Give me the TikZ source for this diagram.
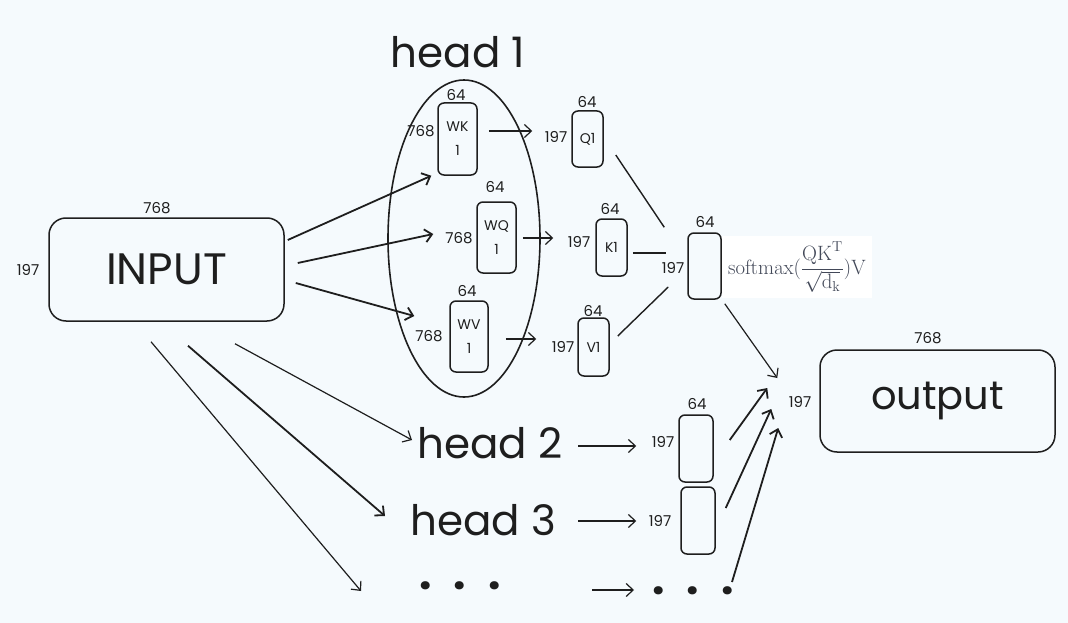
\documentclass[tikz,border=0pt]{standalone}
\usepackage[no-math]{fontspec}
\setmainfont{Poppins}
\usetikzlibrary{shapes.geometric,arrows.meta,calc}
\definecolor{bg}{RGB}{245,250,253}
\definecolor{ink}{RGB}{30,30,30}
\definecolor{fcol}{RGB}{66,72,88}
\begin{document}
\begin{tikzpicture}[x=1pt,y=-1pt,
  box/.style={draw=ink, line width=1.5pt, rounded corners=6pt, inner sep=0pt, text=ink},
  bigbox/.style={box, rounded corners=17pt},
  dim/.style={font=\fontsize{15}{15}\selectfont, text=ink, inner sep=0pt},
  inbox/.style={font=\fontsize{14}{24}\selectfont, align=center},
  big/.style={font=\fontsize{42}{42}\selectfont, text=ink, inner sep=0pt},
  arr/.style={draw=ink, line width=1.8pt, -{Straight Barb[length=7pt,width=13pt]}},
  tarr/.style={draw=ink, line width=1.2pt, -{Straight Barb[length=7pt,width=13pt]}},
  ln/.style={draw=ink, line width=1.4pt}]
\fill[bg] (0,0) rectangle (1068,623);
\useasboundingbox (0,0) rectangle (1068,623);

% input
\node[bigbox, minimum width=235, minimum height=103, font=\fontsize{44}{44}\selectfont] (input) at (166.5,269.5) {INPUT};
\node[dim] (in768) at (157,208) {768};
\node[dim] (in197) at (28,270) {197};

% head 1
\node[big] (h1) at (458,52) {head 1};
\node[draw=ink, line width=1.6pt, ellipse, minimum width=152, minimum height=317, inner sep=0pt] (e1) at (464,238.5) {};

\node[box, minimum width=39, minimum height=72, inbox] (wk) at (457.5,139) {WK\\1};
\node[dim] (wk64) at (456,95) {64};
\node[dim] (wk768) at (421,131) {768};

\node[box, minimum width=39, minimum height=71, inbox] (wq) at (496.5,237.5) {WQ\\1};
\node[dim] (wq64) at (495,187) {64};
\node[dim] (wq768) at (459,238) {768};

\node[box, minimum width=38, minimum height=71, inbox] (wv) at (469,336.5) {WV\\1};
\node[dim] (wv64) at (467,291) {64};
\node[dim] (wv768) at (429,336) {768};

\node[box, minimum width=31, minimum height=56, inbox] (q1) at (587.5,139) {Q1};
\node[dim] (q164) at (587,102) {64};
\node[dim] (q1197) at (556,137) {197};

\node[box, minimum width=31, minimum height=57, inbox] (k1) at (611.5,247.5) {K1};
\node[dim] (k164) at (610,209) {64};
\node[dim] (k1197) at (579,242) {197};

\node[box, minimum width=31, minimum height=58, inbox] (v1) at (593.5,347) {V1};
\node[dim] (v164) at (593,311) {64};
\node[dim] (v1197) at (563,347) {197};

\node[box, minimum width=33, minimum height=66] (att) at (704.5,266) {};
\node[dim] (att64) at (705,222) {64};
\node[dim] (att197) at (673,268) {197};

\node[fill=white, minimum width=150, minimum height=62, inner sep=0pt, text=fcol, font=\fontsize{20.5}{24}\selectfont] (formula) at (797,267)
  {$\displaystyle\mathrm{softmax}(\frac{\mathrm{QK}^{\mathrm{T}}}{\sqrt{\mathrm{d_k}}})\mathrm{V}$};

% output
\node[bigbox, minimum width=235, minimum height=102, font=\fontsize{40}{40}\selectfont] (output) at (937.5,401) {output};
\node[dim] (out768) at (928,338) {768};
\node[dim] (out197) at (800,402) {197};

% other heads
\node[big] (h2) at (490,443) {head 2};
\node[big] (h3) at (483,520) {head 3};
\node[big, font=\fontsize{44}{44}\bfseries] (hdots) at (460,586) {.\kern22pt.\kern22pt.};

\node[box, minimum width=34, minimum height=67] (h2box) at (696,448.5) {};
\node[dim] (h2b64) at (697,404) {64};
\node[dim] (h2b197) at (663,442) {197};

\node[box, minimum width=34, minimum height=67] (h3box) at (698,520.5) {};
\node[dim] (h3b197) at (660,521) {197};

\node[big, font=\fontsize{44}{44}\bfseries] (odots) at (693,591) {.\kern22pt.\kern22pt.};

% connectors
\draw[arr] ($(input.east)+(3,-29.5)$) -- ($(wk.south west)+(-6,0)$);
\draw[arr] ($(input.east)+(13,-6.5)$) -- ($(wq.west)+(-43,-3.5)$);
\draw[arr] ($(input.east)+(11,13.5)$) -- ($(wv.west)+(-35,-20.5)$);

\draw[tarr] ($(wk.east)+(11,-8)$) -- ($(q1.west)+(-39,-8)$);
\draw[tarr] ($(wq.east)+(6,0.5)$) -- ($(k1.west)+(-42,-9.5)$);
\draw[tarr] ($(wv.east)+(17,2.5)$) -- ($(v1.west)+(-41,-8)$);

\draw[ln] ($(q1.east)+(12,16)$) -- ($(att.north west)+(-23,-5)$);
\draw[ln] ($(k1.east)+(5,5.5)$) -- ($(att.west)+(-21,-13)$);
\draw[ln] ($(v1.east)+(8,-11)$) -- ($(att.west)+(-19,21)$);

\draw[tarr] ($(att.south east)+(3,4)$) -- ($(output.west)+(-42,-23)$);

\draw[tarr] ($(input.south)+(68.5,22)$) -- ($(h2.center)+(-78,-3)$);
\draw[arr] ($(input.south)+(21.5,24)$) -- ($(h3.center)+(-98,-4)$);
\draw[tarr] ($(input.south)+(-15.5,20)$) -- ($(hdots.center)+(-99,5)$);

\draw[tarr] ($(h2.center)+(88,3)$) -- ($(h2box.west)+(-42,-2.5)$);
\draw[tarr] ($(h3.center)+(95,1)$) -- ($(h3box.west)+(-44,0.5)$);
\draw[tarr] ($(hdots.center)+(132,4)$) -- ($(odots.center)+(-59,-1)$);

\draw[arr] ($(h2box.east)+(16,-8.5)$) -- ($(output.west)+(-52,-13)$);
\draw[arr] ($(h3box.east)+(10,-12.5)$) -- ($(output.west)+(-48,8)$);
\draw[arr] ($(odots.center)+(39,-9)$) -- ($(output.west)+(-41,27)$);
\end{tikzpicture}
\end{document}
